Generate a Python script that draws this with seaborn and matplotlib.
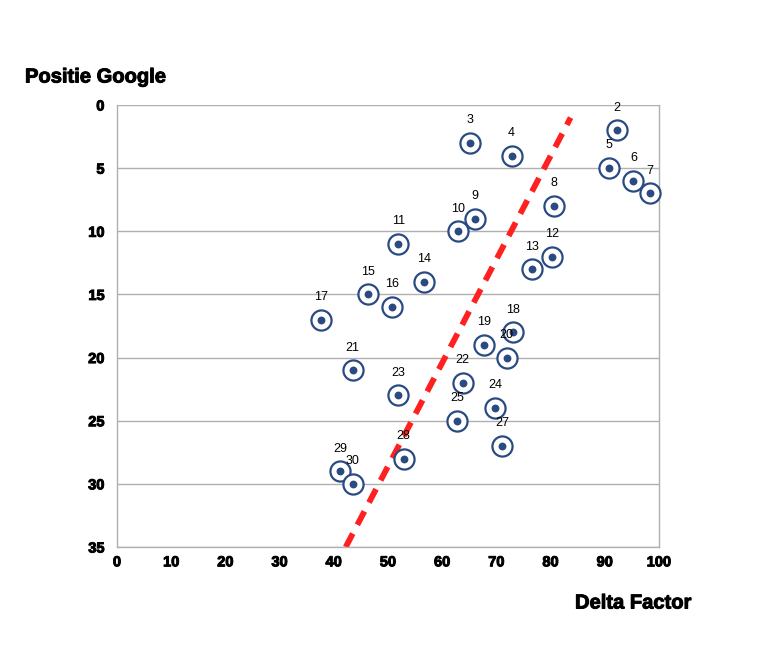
import numpy as np
import pandas as pd
import matplotlib
matplotlib.use("Agg")
import matplotlib.pyplot as plt
import matplotlib.patheffects as pe
import seaborn as sns

# data
ranks = [2, 3, 4, 5, 6, 7, 8, 9, 10, 11, 12, 13, 14, 15, 16, 17, 18, 19, 20,
         21, 22, 23, 24, 25, 27, 28, 29, 30]
delta_factor = [92.3, 65.1, 72.8, 90.8, 95.3, 98.3, 80.7, 66.0, 63.0, 51.9, 80.2, 76.5, 56.6, 46.4, 50.7, 37.6, 73.0, 67.8, 71.9,
                43.5, 63.8, 51.9, 69.8, 62.7, 71.1, 52.9, 41.2, 43.5]
positie_google = [2, 3, 4, 5, 6, 7, 8, 9, 10, 11, 12, 13, 14, 15, 16, 17, 18, 19, 20,
                  21, 22, 23, 24, 25, 27, 28, 29, 30]

trend_x = [42.2, 83.7]
trend_y = [35, 1]

x_ticks = [0, 10, 20, 30, 40, 50, 60, 70, 80, 90, 100]
y_ticks = [0, 5, 10, 15, 20, 25, 30, 35]

df = pd.DataFrame({"delta": delta_factor, "pos": positie_google, "rank": ranks})

sns.set_style("white")
plt.rcParams['font.family'] = ['Liberation Sans', 'DejaVu Sans']
plt.rcParams['text.color'] = 'black'
plt.rcParams['xtick.labelcolor'] = 'black'
plt.rcParams['ytick.labelcolor'] = 'black'

heavy = [pe.withStroke(linewidth=0.7, foreground='black')]

fig = plt.figure(figsize=(7.57, 6.6), dpi=100)
ax = fig.add_axes([0.1546, 0.1712, 0.8705 - 0.1546, 0.8409 - 0.1712])

for y in y_ticks:
    ax.axhline(y, color='#b0b0b0', lw=1, zorder=0)

navy = '#2a4a82'
sns.scatterplot(data=df, x="delta", y="pos", s=210, color='white',
                edgecolor=navy, linewidth=1.6, ax=ax, zorder=3, clip_on=False)
sns.scatterplot(data=df, x="delta", y="pos", s=32, color=navy,
                edgecolor=navy, linewidth=0, ax=ax, zorder=4, clip_on=False)

for _, r in df.iterrows():
    ax.annotate(str(int(r["rank"])), (r["delta"], r["pos"]), xytext=(0, 12),
                textcoords='offset points', ha='center', va='bottom',
                fontsize=9, color='black', zorder=5)

sns.lineplot(x=trend_x, y=trend_y, color='#ff2020', lw=4.2,
             linestyle=(0, (2.6, 1.7)), ax=ax, zorder=2)

ax.set_xlim(0, 100)
ax.set_ylim(35, 0)
ax.set_xticks(x_ticks)
ax.set_yticks(y_ticks)
ax.set_xticklabels([str(t) for t in x_ticks], fontweight='bold', fontsize=10.5,
                   path_effects=heavy)
ax.set_yticklabels([str(t) for t in y_ticks], fontweight='bold', fontsize=10.5,
                   path_effects=heavy)
ax.tick_params(axis='x', direction='in', length=5, color='#b0b0b0', pad=6)
ax.tick_params(axis='y', direction='out', length=5, color='#b0b0b0', pad=4)
ax.set_xlabel("")
ax.set_ylabel("")
for s in ax.spines.values():
    s.set_color('#b0b0b0')
    s.set_linewidth(1)
ax.spines['top'].set_visible(False)

fig.text(25 / 757, 1 - 77 / 660, "Positie Google", fontsize=14.5,
         fontweight='bold', ha='left', va='center', path_effects=heavy)
fig.text(575 / 757, 1 - 603 / 660, "Delta Factor", fontsize=14.5,
         fontweight='bold', ha='left', va='center', path_effects=heavy)

fig.savefig("out.png", dpi=100, facecolor='white')
